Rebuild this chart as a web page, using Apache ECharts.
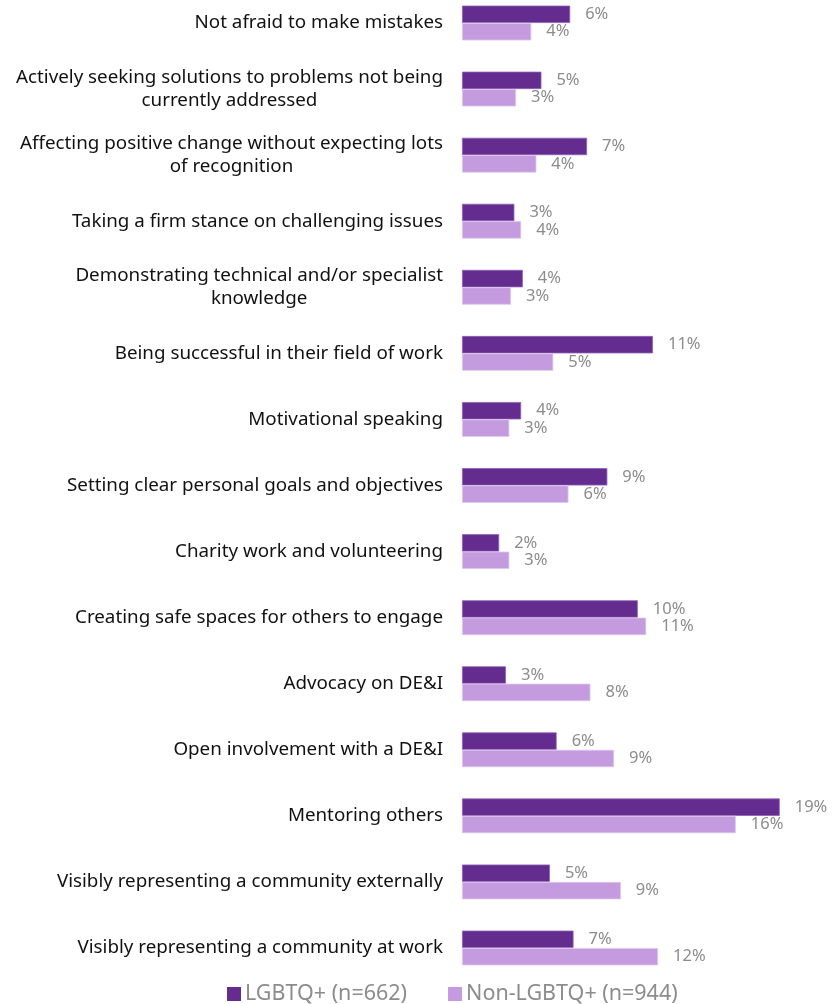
<!DOCTYPE html>
<html>
<head>
<meta charset="utf-8">
<script src="https://cdn.jsdelivr.net/npm/echarts@6/dist/echarts.min.js"></script>
<style>
  html, body { margin: 0; padding: 0; background: #ffffff; }
  #chart { width: 837px; height: 1004px; }
</style>
</head>
<body>
<div id="chart"></div>
<script>
// Traits / behaviours, top to bottom
const categories = [
  'Not afraid to make mistakes',
  'Actively seeking solutions to problems not being currently addressed',
  'Affecting positive change without expecting lots of recognition',
  'Taking a firm stance on challenging issues',
  'Demonstrating technical and/or specialist knowledge',
  'Being successful in their field of work',
  'Motivational speaking',
  'Setting clear personal goals and objectives',
  'Charity work and volunteering',
  'Creating safe spaces for others to engage',
  'Advocacy on DE&I',
  'Open involvement with a DE&I',
  'Mentoring others',
  'Visibly representing a community externally',
  'Visibly representing a community at work'
];

// Share of respondents (%), labels show whole percentages
const lgbtq = [6.4, 4.7, 7.4, 3.1, 3.6, 11.3, 3.5, 8.6, 2.2, 10.4, 2.6, 5.6, 18.8, 5.2, 6.6];
const nonLgbtq = [4.1, 3.2, 4.4, 3.5, 2.9, 5.4, 2.8, 6.3, 2.8, 10.9, 7.6, 9.0, 16.2, 9.4, 11.6];

const seriesNames = ['LGBTQ+ (n=662)', 'Non-LGBTQ+ (n=944)'];

const FONT = '"Noto Sans", sans-serif';
const CAT_FONT_SIZE = 18.8;
const CAT_WRAP = 445;

// Word-wrap a category name so each line fits the label column;
// wrapped lines are centred under one another, the block stays right-aligned
const measureCtx = document.createElement('canvas').getContext('2d');
measureCtx.font = CAT_FONT_SIZE + 'px ' + FONT;
function wrapLabel(text) {
  const words = text.split(' ');
  const lines = [];
  let line = '';
  words.forEach(w => {
    const trial = line ? line + ' ' + w : w;
    if (line && measureCtx.measureText(trial).width > CAT_WRAP) {
      lines.push(line);
      line = w;
    } else {
      line = trial;
    }
  });
  if (line) lines.push(line);
  return lines.map(l => '{c|' + l + '}').join('\n');
}

const chart = echarts.init(document.getElementById('chart'), null, { renderer: 'canvas' });

const valueLabel = {
  show: true,
  position: 'right',
  distance: 15,
  color: '#8c8c8c',
  fontFamily: FONT,
  fontSize: 16.5,
  formatter: p => Math.round(p.value) + '%'
};

chart.setOption({
  animation: false,
  backgroundColor: '#ffffff',
  // first and last categories sit on the grid edges (boundaryGap: false)
  grid: { left: 462, right: 37, top: 23, bottom: 56, containLabel: false },
  legend: {
    top: 978,
    left: 222,
    itemWidth: 14,
    itemHeight: 14,
    itemGap: 41,
    icon: 'rect',
    itemStyle: { borderWidth: 0 },
    textStyle: { color: '#8c8c8c', fontFamily: FONT, fontSize: 21.5, padding: [0, 0, 0, -1] },
    data: seriesNames
  },
  xAxis: {
    type: 'value',
    min: 0,
    max: 20,
    show: false
  },
  yAxis: {
    type: 'category',
    data: categories,
    inverse: true,
    boundaryGap: false,
    axisLine: { show: false },
    axisTick: { show: false },
    axisLabel: {
      margin: 19,
      color: '#111111',
      fontFamily: FONT,
      fontSize: CAT_FONT_SIZE,
      lineHeight: 23,
      align: 'right',
      formatter: wrapLabel,
      rich: {
        c: {
          align: 'center',
          color: '#111111',
          fontFamily: FONT,
          fontSize: CAT_FONT_SIZE,
          lineHeight: 23
        }
      }
    }
  },
  series: [
    {
      name: seriesNames[0],
      type: 'bar',
      data: lgbtq,
      barWidth: 17.4,
      barGap: '0%',
      itemStyle: { color: '#652c8f', borderColor: '#8e62b3', borderWidth: 0.8 },
      label: valueLabel
    },
    {
      name: seriesNames[1],
      type: 'bar',
      data: nonLgbtq,
      barWidth: 17.4,
      barGap: '0%',
      itemStyle: { color: '#c49bdf', borderColor: '#dcc6ee', borderWidth: 0.8 },
      label: valueLabel
    }
  ]
});
</script>
</body>
</html>
